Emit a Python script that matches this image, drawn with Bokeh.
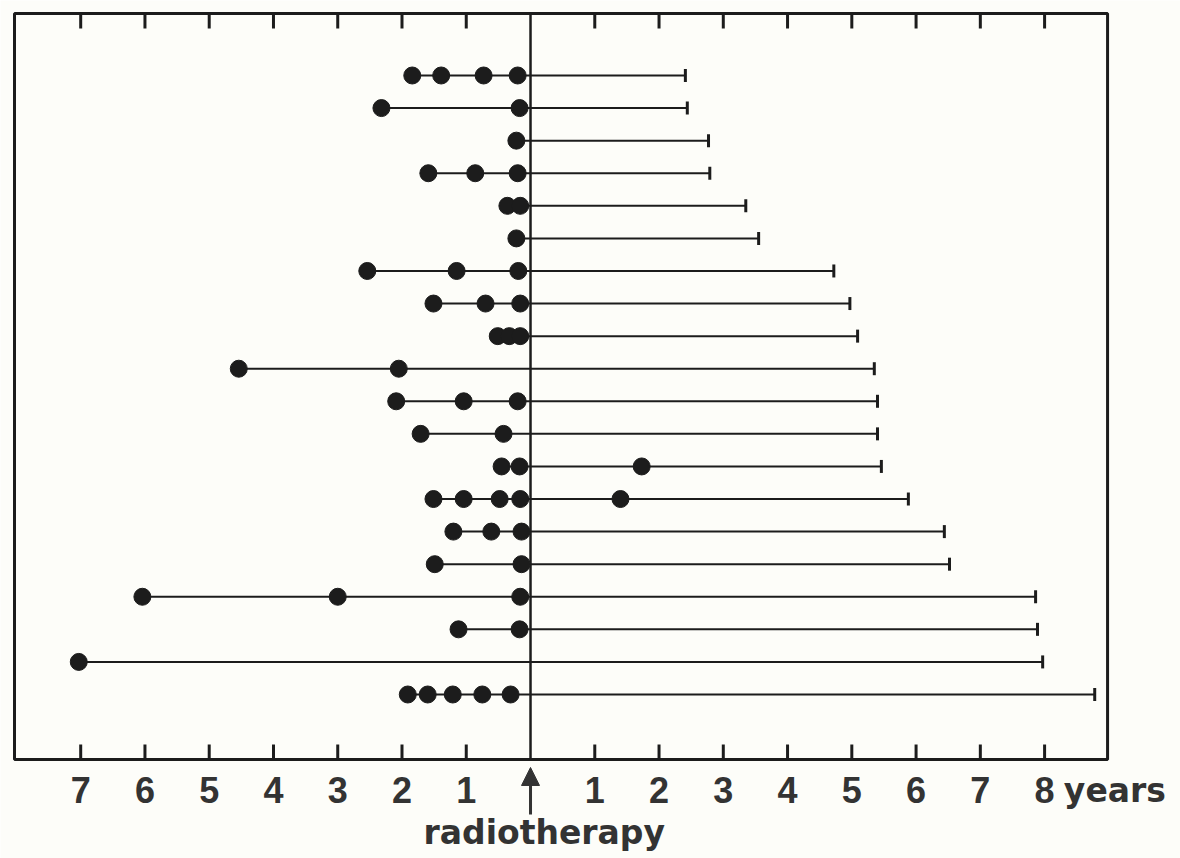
import math

from bokeh.plotting import figure
from bokeh.models import Range1d, Arrow, NormalHead
from bokeh.core.properties import value
from bokeh.embed import file_html
from bokeh.resources import INLINE

# Event times (years relative to radiotherapy; negative = before) per patient, top to bottom
events = [
    [-1.84, -1.39, -0.73, -0.20],
    [-2.32, -0.17],
    [-0.22],
    [-1.59, -0.86, -0.20],
    [-0.36, -0.16],
    [-0.22],
    [-2.54, -1.15, -0.19],
    [-1.51, -0.70, -0.16],
    [-0.51, -0.33, -0.16],
    [-4.54, -2.05],
    [-2.09, -1.04, -0.20],
    [-1.71, -0.42],
    [-0.45, -0.17, 1.73],
    [-1.51, -1.04, -0.48, -0.16, 1.40],
    [-1.20, -0.61, -0.14],
    [-1.49, -0.14],
    [-6.04, -3.00, -0.16],
    [-1.12, -0.17],
    [-7.03],
    [-1.91, -1.60, -1.21, -0.75, -0.31],
]

# Follow-up after radiotherapy (years)
follow_up = [2.41, 2.44, 2.77, 2.79, 3.35, 3.55, 4.72, 4.97, 5.09, 5.35,
             5.40, 5.40, 5.46, 5.88, 6.44, 6.52, 7.86, 7.89, 7.97, 8.78]

# Year ticks on either side of radiotherapy
year_ticks = [-7, -6, -5, -4, -3, -2, -1, 1, 2, 3, 4, 5, 6, 7, 8]
tick_labels = [str(abs(t)) for t in year_ticks]

rows = list(range(1, len(follow_up) + 1))
starts = [min(ev) for ev in events]
dot_x = [x for ev in events for x in ev]
dot_y = [r for r, ev in zip(rows, events) for _ in ev]

# Layout of the boxed panel (x in years, y in patient rows; rows grow downwards)
BOX_LEFT, BOX_RIGHT = -8.03, 8.98
BOX_TOP, BOX_BOTTOM = -0.903, 21.995
TICK_LEN = 0.46
LABEL_ROW = 22.94
CAPTION_ROW = 24.25

ink = "#1c1c1c"
text_ink = "#333333"
paper = "#fdfdf9"

p = figure(width=1180, height=858,
           x_range=Range1d(-8.248, 10.115),
           y_range=Range1d(25.034, -1.302),
           x_axis_type=None, y_axis_type=None,
           output_backend="svg", toolbar_location=None)
p.min_border = 0
p.outline_line_color = None
p.background_fill_color = paper
p.border_fill_color = paper
p.xgrid.visible = False
p.ygrid.visible = False

# Frame
p.quad(left=[BOX_LEFT], right=[BOX_RIGHT], top=[BOX_TOP], bottom=[BOX_BOTTOM],
       fill_color=None, line_color=ink, line_width=3)

# Inward year ticks along the top and bottom edges
n = len(year_ticks)
p.segment(x0=year_ticks, y0=[BOX_TOP] * n, x1=year_ticks, y1=[BOX_TOP + TICK_LEN] * n,
          line_color=ink, line_width=3)
p.segment(x0=year_ticks, y0=[BOX_BOTTOM] * n, x1=year_ticks, y1=[BOX_BOTTOM - TICK_LEN] * n,
          line_color=ink, line_width=3)

# Time of radiotherapy
p.segment(x0=[0], y0=[BOX_TOP], x1=[0], y1=[BOX_BOTTOM], line_color=ink, line_width=2.5)

# Observation lines, end-of-follow-up bars and events
p.segment(x0=starts, y0=rows, x1=follow_up, y1=rows, line_width=2, line_color=ink)
p.scatter(x=follow_up, y=rows, marker="dash", angle=math.pi / 2, size=13,
          line_width=3, line_color=ink)
p.scatter(x=dot_x, y=dot_y, size=17, fill_color=ink, line_color=ink)

# Year labels
p.text(x=year_ticks, y=[LABEL_ROW] * n, text=tick_labels,
       text_font=value("Liberation Sans"), text_font_style="bold",
       text_font_size=value("36px"), text_color=text_ink,
       text_align="center", text_baseline="alphabetic")
p.text(x=[8.30], y=[LABEL_ROW], text=["years"],
       text_font=value("DejaVu Sans"), text_font_style="bold",
       text_font_size=value("33px"), text_color=text_ink,
       text_align="left", text_baseline="alphabetic")
p.text(x=[-1.665], y=[CAPTION_ROW], text=["radiotherapy"],
       text_font=value("DejaVu Sans"), text_font_style="bold",
       text_font_size=value("33px"), text_color=text_ink,
       text_align="left", text_baseline="alphabetic")

p.add_layout(Arrow(x_start=0, y_start=23.68, x_end=0, y_end=22.24,
                   line_color=text_ink, line_width=3,
                   end=NormalHead(size=18, fill_color=text_ink, line_color=text_ink)))

open("out.html", "w").write(file_html(p, INLINE))
